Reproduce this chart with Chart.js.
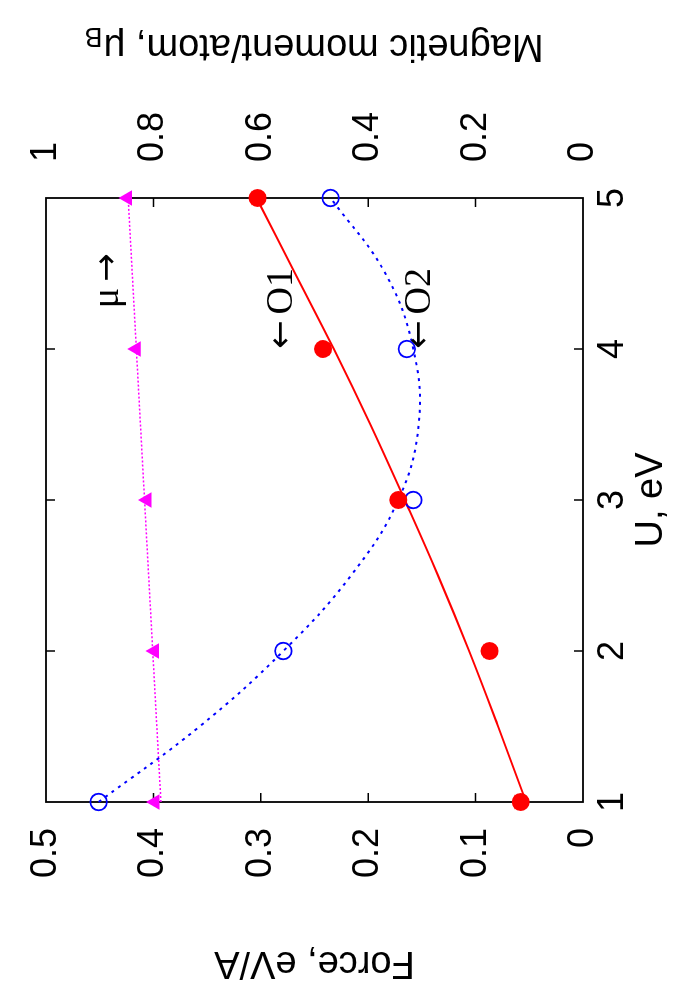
<!DOCTYPE html>
<html><head><meta charset="utf-8">
<script src="https://cdn.jsdelivr.net/npm/chart.js@4"></script>
<style>
html,body{margin:0;padding:0;background:#fff;overflow:hidden;width:700px;height:1000px;}
#wrap{position:absolute;left:0;top:0;width:1000px;height:700px;transform-origin:0 0;transform:translate(0,1000px) rotate(-90deg);background:#fff;}
canvas{display:block;}
</style></head><body>
<div id="wrap"><canvas id="c" width="1000" height="700"></canvas></div>
<script>
// ---- data ----
const U = [1, 2, 3, 4, 5];
const forceO1 = [0.058, 0.087, 0.172, 0.242, 0.303];
const forceO2 = [0.451, 0.279, 0.158, 0.164, 0.235];
const moment  = [0.797, 0.798, 0.812, 0.832, 0.848];

const fitU   = [1, 1.5, 2, 2.5, 3, 3.5, 4, 4.5, 5];
const fitO1  = [0.053, 0.079, 0.106, 0.135, 0.166, 0.198, 0.232, 0.268, 0.304];
const fitO2  = [0.451, 0.357, 0.279, 0.216, 0.172, 0.153, 0.158, 0.184, 0.235];
const fitMuU = [1, 5];
const fitMu  = [0.786, 0.847];

const uTickLabels      = ['1', '2', '3', '4', '5'];
const forceTickLabels  = ['0', '0.1', '0.2', '0.3', '0.4', '0.5'];
const momentTickLabels = ['0', '0.2', '0.4', '0.6', '0.8', '1'];

const xTitle  = 'U, eV';
const yTitle  = 'Force, eV/A';
const y2Title = 'Magnetic moment/atom, \u03bc';
const y2Sub   = 'B';
const notes = [
  {arrow: '\u2190', text: 'O1', u: 4.0,  v: 0.280, axis: 'y',  arrowFirst: true},
  {arrow: '\u2190', text: 'O2', u: 4.0,  v: 0.152, axis: 'y',  arrowFirst: true},
  {arrow: '\u2192', text: '\u03bc', u: 4.27, v: 0.885, axis: 'y2', arrowFirst: false}
];

const pts = (xs, ys) => xs.map((x, i) => ({x, y: ys[i]}));
const SANS = '"Liberation Sans", Arial, Helvetica, sans-serif';
const SERIF = '"Liberation Serif", "Times New Roman", serif';
const ARROWF = '"DejaVu Sans", sans-serif';

const decor = {
  id: 'decor',
  beforeDatasetsDraw(chart) {
    const {ctx, chartArea: a, scales} = chart;
    ctx.save();
    ctx.strokeStyle = '#000';
    ctx.lineWidth = 1.5;
    const L = 9;
    ctx.beginPath();
    U.forEach(u => {
      if (u === 1 || u === 5) return;
      const px = scales.x.getPixelForValue(u);
      ctx.moveTo(px, a.bottom); ctx.lineTo(px, a.bottom - L);
      ctx.moveTo(px, a.top); ctx.lineTo(px, a.top + L);
    });
    scales.y.ticks.forEach(t => {
      if (t.value <= 0 || t.value >= 0.5) return;
      const py = scales.y.getPixelForValue(t.value);
      ctx.moveTo(a.left, py); ctx.lineTo(a.left + L, py);
    });
    scales.y2.ticks.forEach(t => {
      if (t.value <= 0 || t.value >= 1) return;
      const py = scales.y2.getPixelForValue(t.value);
      ctx.moveTo(a.right, py); ctx.lineTo(a.right - L, py);
    });
    ctx.stroke();
    ctx.lineWidth = 1.8;
    ctx.strokeRect(a.left, a.top, a.right - a.left, a.bottom - a.top);
    ctx.restore();
  },
  afterDraw(chart) {
    const {ctx, chartArea: a, scales} = chart;
    ctx.save();
    ctx.fillStyle = '#000';
    ctx.font = '38px ' + SANS;
    ctx.textAlign = 'center';
    ctx.textBaseline = 'middle';
    ctx.fillText(xTitle, (a.left + a.right) / 2, 652);
    ctx.save();
    ctx.translate(38, (a.top + a.bottom) / 2);
    ctx.rotate(-Math.PI / 2);
    ctx.fillText(yTitle, 0, 0);
    ctx.restore();
    ctx.save();
    ctx.translate(955, (a.top + a.bottom) / 2);
    ctx.rotate(-Math.PI / 2);
    ctx.textAlign = 'left';
    ctx.font = '38px ' + SANS;
    const w1 = ctx.measureText(y2Title).width;
    ctx.font = '27px ' + SANS;
    const w2 = ctx.measureText(y2Sub).width;
    const x0 = -(w1 + w2) / 2;
    ctx.font = '38px ' + SANS;
    ctx.fillText(y2Title, x0, 0);
    ctx.font = '27px ' + SANS;
    ctx.fillText(y2Sub, x0 + w1 + 1, 10);
    ctx.restore();
    // annotations
    ctx.textAlign = 'left';
    ctx.textBaseline = 'middle';
    notes.forEach(n => {
      let px = scales.x.getPixelForValue(n.u);
      const py = scales[n.axis].getPixelForValue(n.v);
      const parts = n.arrowFirst
        ? [[n.arrow, '34px ' + ARROWF], [n.text, '38px ' + SERIF]]
        : [[n.text, '38px ' + SERIF], [n.arrow, '34px ' + ARROWF]];
      parts.forEach(([s, f], k) => {
        ctx.font = f;
        ctx.fillText(s, px, py);
        px += ctx.measureText(s).width + (k === 0 ? 6 : 0);
      });
    });
    ctx.restore();
  }
};

const noPadV = s => { s.paddingTop = 0; s.paddingBottom = 0; };
const noPadH = s => { s.paddingLeft = 0; s.paddingRight = 0; };

new Chart(document.getElementById('c'), {
  type: 'scatter',
  data: {
    datasets: [
      {label: 'O1', data: pts(U, forceO1), yAxisID: 'y', showLine: false,
       pointStyle: 'circle', pointRadius: 9, pointBackgroundColor: '#ff0000', pointBorderColor: '#ff0000', pointBorderWidth: 0},
      {label: 'O2', data: pts(U, forceO2), yAxisID: 'y', showLine: false,
       pointStyle: 'circle', pointRadius: 8.3, pointBackgroundColor: 'rgba(0,0,0,0)', pointBorderColor: '#0000ff', pointBorderWidth: 1.8},
      {label: 'mu', data: pts(U, moment), yAxisID: 'y2', showLine: false,
       pointStyle: 'triangle', pointRadius: 9, pointBackgroundColor: '#ff00ff', pointBorderColor: '#ff00ff', pointBorderWidth: 0},
      {label: 'O1 fit', data: pts(fitU, fitO1), yAxisID: 'y', showLine: true, pointRadius: 0,
       borderColor: '#ff0000', borderWidth: 2, tension: 0.4},
      {label: 'O2 fit', data: pts(fitU, fitO2), yAxisID: 'y', showLine: true, pointRadius: 0,
       borderColor: '#0000ff', borderWidth: 2, borderDash: [3, 5], tension: 0.4},
      {label: 'mu fit', data: pts(fitMuU, fitMu), yAxisID: 'y2', showLine: true, pointRadius: 0,
       borderColor: '#ff00ff', borderWidth: 1.5, borderDash: [2, 2]}
    ]
  },
  options: {
    responsive: false,
    animation: false,
    devicePixelRatio: 1,
    clip: false,
    layout: {padding: {top: 46, left: 0, right: 0, bottom: 0}},
    plugins: {legend: {display: false}, tooltip: {enabled: false}},
    scales: {
      x: {
        type: 'linear', position: 'bottom', min: 1, max: 5,
        grid: {display: false, drawTicks: false}, border: {display: false},
        ticks: {stepSize: 1, padding: 8, color: '#000', font: {size: 36, family: SANS},
                callback: (v, i) => uTickLabels[i]},
        afterFit: s => { s.height = 117; noPadH(s); }
      },
      y: {
        type: 'linear', position: 'left', min: 0, max: 0.5,
        grid: {display: false, drawTicks: false}, border: {display: false},
        ticks: {stepSize: 0.1, padding: 26, color: '#000', font: {size: 36, family: SANS},
                callback: (v, i) => forceTickLabels[i]},
        afterFit: s => { s.width = 198; noPadV(s); }
      },
      y2: {
        type: 'linear', position: 'right', min: 0, max: 1,
        grid: {display: false, drawTicks: false}, border: {display: false},
        ticks: {stepSize: 0.2, padding: 36, color: '#000', font: {size: 36, family: SANS},
                callback: (v, i) => momentTickLabels[i]},
        afterFit: s => { s.width = 198; noPadV(s); }
      }
    }
  },
  plugins: [decor]
});
</script>
</body></html>
